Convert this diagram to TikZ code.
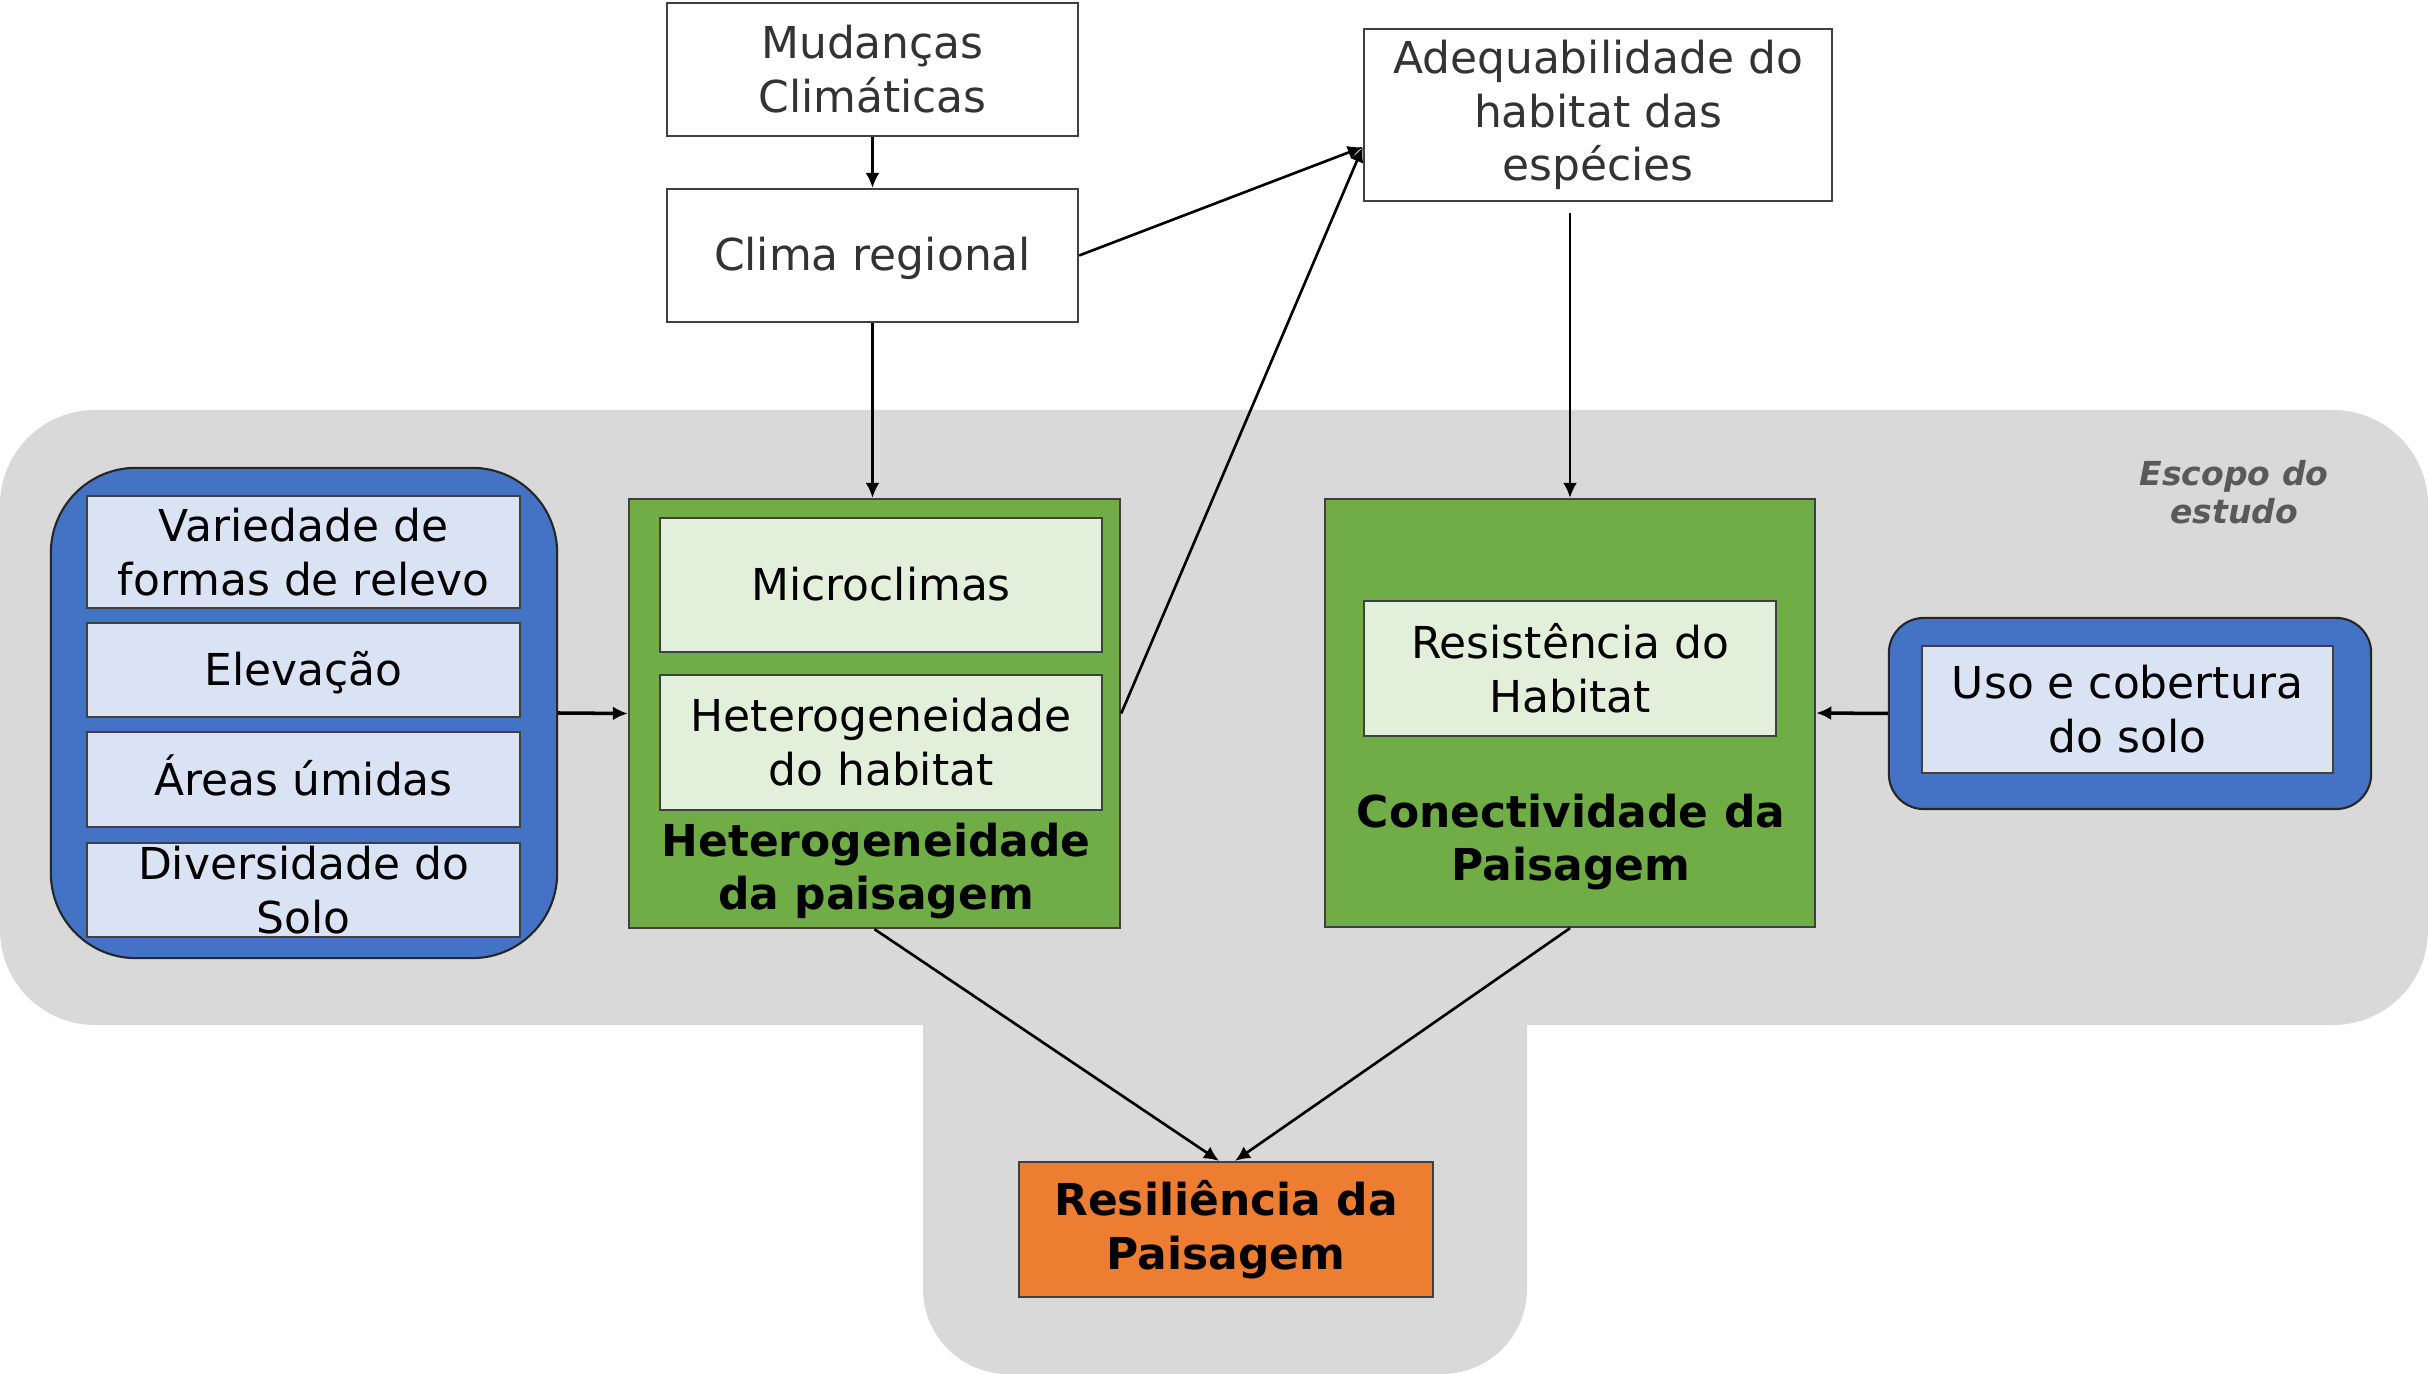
\documentclass[tikz,border=0pt]{standalone}
\usepackage{fontspec}
\setmainfont{DejaVu Sans}
\usetikzlibrary{arrows.meta}
\definecolor{bandgray}{HTML}{D9D9D9}
\definecolor{bluedk}{HTML}{4472C4}
\definecolor{bluelt}{HTML}{DAE3F3}
\definecolor{greendk}{HTML}{70AD47}
\definecolor{greenlt}{HTML}{E2EFDA}
\definecolor{orng}{HTML}{ED7D31}
\definecolor{escgray}{HTML}{595959}
\newcommand\mainsz{\fontsize{12.5pt}{15.3pt}\selectfont}
\newcommand\smallsz{\fontsize{9.4pt}{10.8pt}\selectfont}
\tikzset{
  base/.style={draw=black!75, line width=0.6pt, inner sep=0pt, align=center, font=\mainsz},
  topbox/.style={base, fill=white, text=black!80},
  innerb/.style={base, fill=bluelt},
  innerg/.style={base, fill=greenlt},
  grp/.style={base, fill=greendk},
  oneline/.style={text height=0.37cm, text depth=0.06cm},
  bluegrp/.style={draw=black!85, line width=0.6pt, fill=bluedk, inner sep=0pt},
  boldlbl/.style={inner sep=0pt, align=center, font=\mainsz\bfseries},
  arr/.style={line width=0.75pt, draw=black, -{Latex[length=0.15cm,width=0.14cm]}},
  arrthick/.style={arr, line width=1pt},
}
\begin{document}
\begin{tikzpicture}[x=0.01cm, y=-0.01cm]
\useasboundingbox (0,0) rectangle (2428,1374);
% gray scope background
\fill[bandgray, rounded corners=0.85cm] (923,900) rectangle (1527,1374);
\fill[bandgray, rounded corners=0.95cm] (0,410) rectangle (2428,1025);

% top boxes
\node[topbox, minimum width=4.11cm, minimum height=1.33cm] (mud) at (872.5,69.5) {Mudanças\\Climáticas};
\node[topbox, oneline, minimum width=4.11cm, minimum height=1.33cm] (clima) at (872.5,255.5) {Clima regional};
\node[topbox, minimum width=4.68cm, minimum height=1.72cm] (ade) at (1598,115) {Adequabilidade do\\habitat das\\espécies};

% left blue group
\node[bluegrp, rounded corners=0.85cm, minimum width=5.06cm, minimum height=4.90cm] (blueL) at (304,713) {};
\node[innerb, minimum width=4.33cm, minimum height=1.12cm] (var) at (303.5,552) {Variedade de\\formas de relevo};
\node[innerb, oneline, minimum width=4.33cm, minimum height=0.94cm] (elev) at (303.5,670) {Elevação};
\node[innerb, oneline, minimum width=4.33cm, minimum height=0.95cm] (areas) at (303.5,779.5) {Áreas úmidas};
\node[innerb, minimum width=4.33cm, minimum height=0.94cm] (div) at (303.5,890) {Diversidade do\\Solo};

% heterogeneity group
\node[grp, minimum width=4.91cm, minimum height=4.29cm] (het) at (874.5,713.5) {};
\node[innerg, oneline, minimum width=4.42cm, minimum height=1.34cm] (micro) at (881,585) {Microclimas};
\node[innerg, minimum width=4.42cm, minimum height=1.35cm] (hethab) at (881,742.5) {Heterogeneidade\\do habitat};
\node[boldlbl] (hetlbl) at (876,871) {Heterogeneidade\\da paisagem};

% connectivity group
\node[grp, minimum width=4.90cm, minimum height=4.28cm] (con) at (1570,713) {};
\node[innerg, minimum width=4.12cm, minimum height=1.35cm] (resist) at (1570,668.5) {Resistência do\\Habitat};
\node[boldlbl] (conlbl) at (1571,842) {Conectividade da\\Paisagem};

% right blue group
\node[bluegrp, rounded corners=0.35cm, minimum width=4.82cm, minimum height=1.91cm] (blueR) at (2130,713.5) {};
\node[innerb, minimum width=4.11cm, minimum height=1.27cm] (uso) at (2127.5,709.5) {Uso e cobertura\\do solo};

% resilience
\node[base, fill=orng, minimum width=4.14cm, minimum height=1.35cm, font=\mainsz\bfseries] (res) at (1226,1229.5) {Resiliência da\\Paisagem};

% scope label
\node[inner sep=0pt, align=center, font=\smallsz\bfseries\itshape, text=escgray] (esc) at (2234,492) {Escopo do\\estudo};

% connectors
\coordinate (adein) at ([yshift=-0.32cm]ade.west);
\coordinate (adeout) at ([yshift=-0.11cm]ade.south -| con.north);
\draw[arr] (mud.south) -- (clima.north);
\draw[arr] (clima.south) -- (clima.south |- het.north);
\draw[arr] (clima.east) -- (adein);
\draw[arr] (het.east) -- (adein);
\draw[arr] (adeout) -- (con.north);
\draw[arrthick] (blueL.east) -- (het.west);
\draw[arrthick] (blueR.west) -- (con.east);
\draw[arr] (het.south) -- ([xshift=-0.07cm]res.north);
\draw[arr] (con.south) -- ([xshift=0.09cm]res.north);
\end{tikzpicture}
\end{document}
